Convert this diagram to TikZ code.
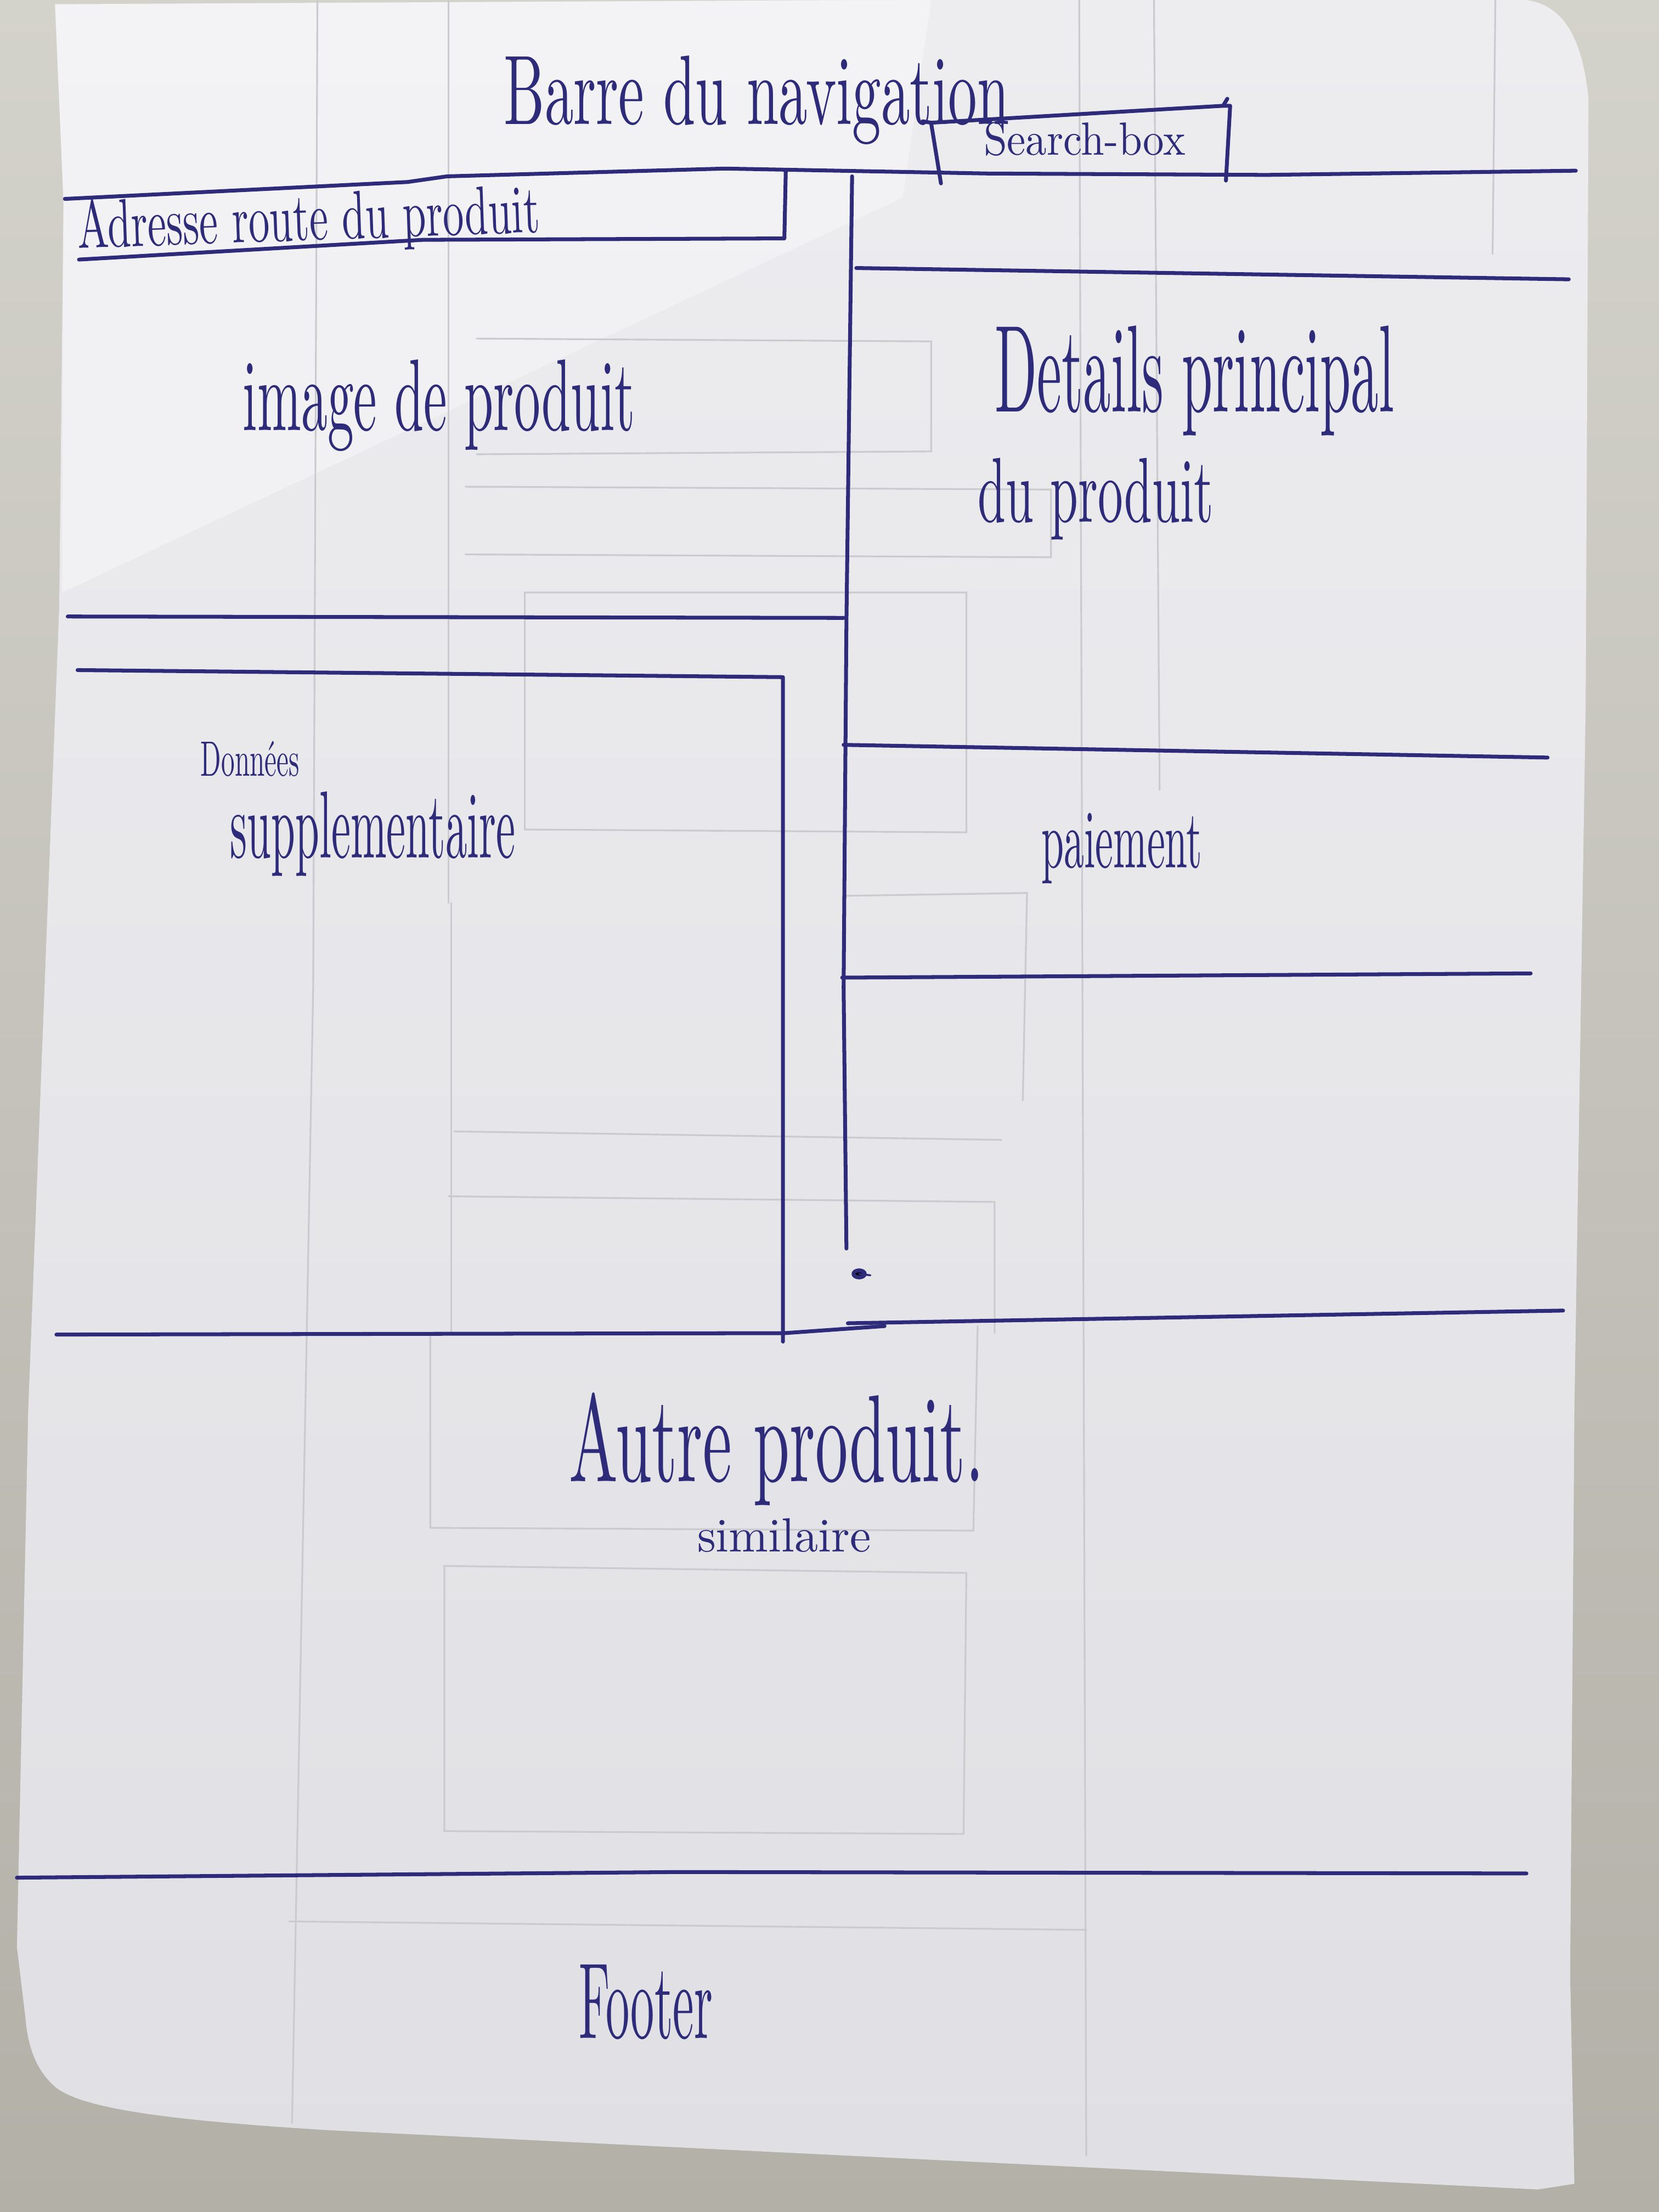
\documentclass[tikz,border=0pt]{standalone}
\usepackage{graphicx}
\newdimen\pxu \pxu=0.025714cm
\newcommand\handtext[3]{\resizebox*{#1\pxu}{#2\pxu}{#3}}
\definecolor{ink}{HTML}{2D2B7A}
\definecolor{ghost}{HTML}{CBCBCF}
\definecolor{deskTop}{HTML}{D4D3CB}
\definecolor{deskBot}{HTML}{B3B0A8}
\definecolor{paperTop}{HTML}{EDEDF0}
\definecolor{paperBot}{HTML}{E0E0E4}
\tikzset{
  ink/.style={draw=ink, line width=2pt, line cap=round, line join=round},
  ghostline/.style={draw=ghost, line width=0.9pt, line cap=round},
  hand/.style={text=ink, inner sep=0pt, anchor=base west},
}
\begin{document}
\begin{tikzpicture}[x=0.025714cm, y=-0.025714cm]
\useasboundingbox (0,0) rectangle (1176,1568);
% desk behind the sheet
\shade[top color=deskTop, bottom color=deskBot] (0,0) rectangle (1176,1568);
% the sheet of paper
\shade[top color=paperTop, bottom color=paperBot]
  (39,3) -- (600,0) -- (1082,0) .. controls (1110,4) and (1122,30) .. (1126,70)
  -- (1124,500) -- (1116,1000) -- (1113,1400) -- (1116,1548)
  -- (1090,1552) -- (233,1510) .. controls (120,1503) and (60,1495) .. (40,1480)
  .. controls (28,1470) and (20,1455) .. (18,1430)
  -- (12,1380) -- (20,1000) -- (42,430) -- (45,143) -- cycle;
% brighter fold at the top left
\fill[white, opacity=0.35] (39,3) -- (660,0) -- (640,140) -- (44,420) -- (45,143) -- cycle;

% pencil strokes showing through from the back
\draw[ghostline] (225,0) -- (222,700) -- (207,1505);
\draw[ghostline] (318,0) -- (318,640);
\draw[ghostline] (765,0) -- (770,1528);
\draw[ghostline] (818,0) -- (822,560);
\draw[ghostline] (1060,0) -- (1058,180);
\draw[ghostline] (338,240) -- (660,242) -- (660,320) -- (338,322);
\draw[ghostline] (330,345) -- (745,347) -- (745,395) -- (330,393);
\draw[ghostline] (372,420) -- (685,420) -- (685,590) -- (372,588) -- cycle;
\draw[ghostline] (600,635) -- (728,633) -- (725,780);
\draw[ghostline] (320,640) -- (320,945);
\draw[ghostline] (322,802) -- (710,808);
\draw[ghostline] (318,848) -- (705,852) -- (705,945);
\draw[ghostline] (305,945) -- (305,1083) -- (690,1085) -- (693,940);
\draw[ghostline] (315,1110) -- (685,1115) -- (683,1300) -- (315,1298) -- cycle;
\draw[ghostline] (205,1362) -- (770,1368);

% header bar and its lower border
\node[hand] (nav) at (357,88) {\handtext{358}{63}{Barre du navigation}};
\draw[ink] (46,141) -- (289,129) -- (317,125) -- (514,119.5) -- (700,123) -- (898,124) -- (1117,121);
% search box
\draw[ink] (667,130) -- (660,87) -- (654,86);
\draw[ink] (660,87) -- (867,75) -- (870,70);
\draw[ink] (867,75) -- (872,75) -- (869,128);
\node[hand] (search) at (697,110) {\handtext{143}{24}{Search-box}};

% breadcrumb strip
\draw[ink] (56,184) -- (300,170) -- (556,169) -- (557,121);
\node[hand, rotate=2] (route) at (55,176) {\handtext{328}{44}{Adresse route du produit}};

% long divider between the two columns
\draw[ink] (604,125) -- (600,440) -- (598,700) -- (600,885);
\fill[ink] (609,903) ellipse (4 and 2.5);
\draw[ink, line width=1pt] (609,903) -- (617,904);

% right column: main details
\draw[ink] (607,190) -- (1112,198);
\node[hand] (det1) at (705,292) {\handtext{283}{78}{Details principal}};
\node[hand] (det2) at (693,370) {\handtext{167}{58}{du produit}};

% left column: product image
\node[hand] (img) at (172,305) {\handtext{278}{65}{image de produit}};
\draw[ink] (48,437) -- (598,438);

% left column: extra data
\draw[ink] (55,475) -- (555,480) -- (555,951);
\node[hand] (don1) at (142,550) {\handtext{70}{25}{Données}};
\node[hand] (don2) at (163,608) {\handtext{202}{60}{supplementaire}};

% right column: payment
\draw[ink] (598,528) -- (1097,537);
\draw[ink] (597,693) -- (1085,690);
\node[hand] (pay) at (738,615) {\handtext{114}{50}{paiement}};

% bottom border of the two columns
\draw[ink] (40,946) -- (556,945) -- (627,940);
\draw[ink] (601,938) -- (1108,929);

% similar products
\node[hand] (other) at (403,1050) {\handtext{294}{80}{Autre produit.}};
\node[hand] (simil) at (494,1100) {\handtext{123}{24}{similaire}};

% footer
\draw[ink] (12,1331) -- (480,1327) -- (1082,1328);
\node[hand] (foot) at (410,1445) {\handtext{95}{53}{Footer}};
\end{tikzpicture}
\end{document}
